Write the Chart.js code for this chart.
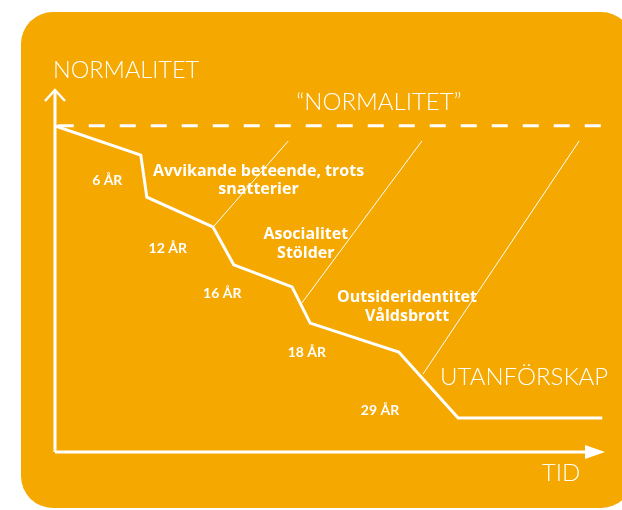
<!DOCTYPE html>
<html>
<head>
<meta charset="utf-8">
<script src="https://cdn.jsdelivr.net/npm/chart.js@4"></script>
<style>
  body { margin: 0; background: #fff; }
  #wrap { width: 622px; height: 510px; }
</style>
</head>
<body>
<div id="wrap"><canvas id="normChart" width="622" height="510"></canvas></div>
<script>
// tid (0-100) och normalitet (0-100)
var pathTid = [0, 15.6, 16.7, 28.7, 32.5, 43.1, 46.4, 62.5, 73.3, 99.5];
var pathNorm = [90.1, 82.0, 70.4, 62.2, 51.7, 45.6, 35.6, 27.6, 9.4, 9.4];

var normLevel = 90.1;
var normFrom = 0.5, normTo = 100;

// tunna hjälplinjer (start, slut)
var leadTid = [[42.4, 28.9], [66.7, 44.9], [95.3, 66.9]];
var leadNorm = [[85.9, 62.4], [85.9, 41.2], [85.9, 21.5]];

var ageLabels = ['6 ÅR', '12 ÅR', '16 ÅR', '18 ÅR', '29 ÅR'];
var ageTid = [9.5, 20.5, 30.4, 45.8, 59.1];
var ageNorm = [75.1, 56.1, 43.9, 27.6, 11.6];

var stageLabels = [['Avvikande beteende, trots', 'snatterier'], ['Asocialitet', 'Stölder'], ['Outsideridentitet', 'Våldsbrott']];
var stageTid = [37.0, 45.6, 64.0];
var stageNorm = [75.0, 57.5, 40.1];

var bigLabels = ['“NORMALITET”', 'UTANFÖRSKAP', 'TID'];
var bigTid = [58.9, 85.3, 92.0];
var bigNorm = [96.7, 20.7, -5.8];
var yTitle = 'NORMALITET';

function pts(xs, ys) {
	var out = [];
	for (var i = 0; i < xs.length; i++) out.push({x: xs[i], y: ys[i]});
	return out;
}

var datasets = [{
	data: pts(pathTid, pathNorm),
	borderColor: '#fff',
	borderWidth: 3,
	borderJoinStyle: 'miter',
	pointRadius: 0
}, {
	data: pts([normFrom, normTo], [normLevel, normLevel]),
	borderColor: '#fff',
	borderWidth: 3,
	borderDash: [16, 15],
	pointRadius: 0
}];
for (var i = 0; i < leadTid.length; i++) {
	datasets.push({
		data: pts(leadTid[i], leadNorm[i]),
		borderColor: '#fff',
		borderWidth: 1,
		pointRadius: 0
	});
}

const bgPlugin = {
	id: 'bg',
	beforeDraw: function(chart) {
		var c = chart.ctx;
		c.save();
		c.fillStyle = '#F5A800';
		c.beginPath();
		c.roundRect(21, 12, 612, 496, 32);
		c.fill();
		c.restore();
	}
};

const axisPlugin = {
	id: 'axes',
	afterDatasetsDraw: function(chart) {
		var c = chart.ctx;
		var sx = chart.scales.x, sy = chart.scales.y;
		var x0 = sx.getPixelForValue(0), y0 = sy.getPixelForValue(0);
		var yTop = sy.getPixelForValue(100), xEnd = sx.getPixelForValue(100);
		c.save();
		c.strokeStyle = '#fff';
		c.fillStyle = '#fff';
		c.lineWidth = 3;
		c.beginPath();
		c.moveTo(x0, y0);
		c.lineTo(x0, yTop + 1);
		c.moveTo(x0, y0);
		c.lineTo(xEnd - 18, y0);
		c.stroke();
		// pil upp
		c.beginPath();
		c.moveTo(x0 - 10, yTop + 11);
		c.lineTo(x0, yTop);
		c.lineTo(x0 + 10, yTop + 11);
		c.lineWidth = 2.5;
		c.stroke();
		// pil höger
		c.beginPath();
		c.moveTo(xEnd - 20, y0 - 7);
		c.lineTo(xEnd, y0);
		c.lineTo(xEnd - 20, y0 + 7);
		c.closePath();
		c.fill();

		c.textBaseline = 'middle';
		c.textAlign = 'center';
		c.font = 'bold 14px Lato, "Open Sans", sans-serif';
		ageLabels.forEach(function(t, i) {
			c.fillText(t, sx.getPixelForValue(ageTid[i]), sy.getPixelForValue(ageNorm[i]));
		});
		c.font = 'bold 16px "Open Sans", Lato, sans-serif';
		stageLabels.forEach(function(lines, i) {
			var px = sx.getPixelForValue(stageTid[i]), py = sy.getPixelForValue(stageNorm[i]);
			var lh = 18.5;
			lines.forEach(function(l, j) {
				c.fillText(l, px, py + (j - (lines.length - 1) / 2) * lh);
			});
		});
		c.font = '300 24px Lato, "Open Sans", sans-serif';
		bigLabels.forEach(function(t, i) {
			c.fillText(t, sx.getPixelForValue(bigTid[i]), sy.getPixelForValue(bigNorm[i]));
		});
		c.font = '300 23.5px Lato, "Open Sans", sans-serif';
		c.textAlign = 'left';
		c.fillText(yTitle, x0 - 2, sy.getPixelForValue(105.5));
		c.restore();
	}
};

const ctx = document.getElementById('normChart').getContext('2d');
const myChart = new Chart(ctx, {
	type: 'scatter',
	data: { datasets: datasets },
	options: {
		responsive: false,
		animation: false,
		showLine: true,
		layout: { padding: { left: 55, right: 17, top: 90, bottom: 58 } },
		plugins: { legend: { display: false }, tooltip: { enabled: false } },
		scales: {
			x: { type: 'linear', min: 0, max: 100, display: false },
			y: { type: 'linear', min: 0, max: 100, display: false }
		}
	},
	plugins: [bgPlugin, axisPlugin]
});
</script>
</body>
</html>
